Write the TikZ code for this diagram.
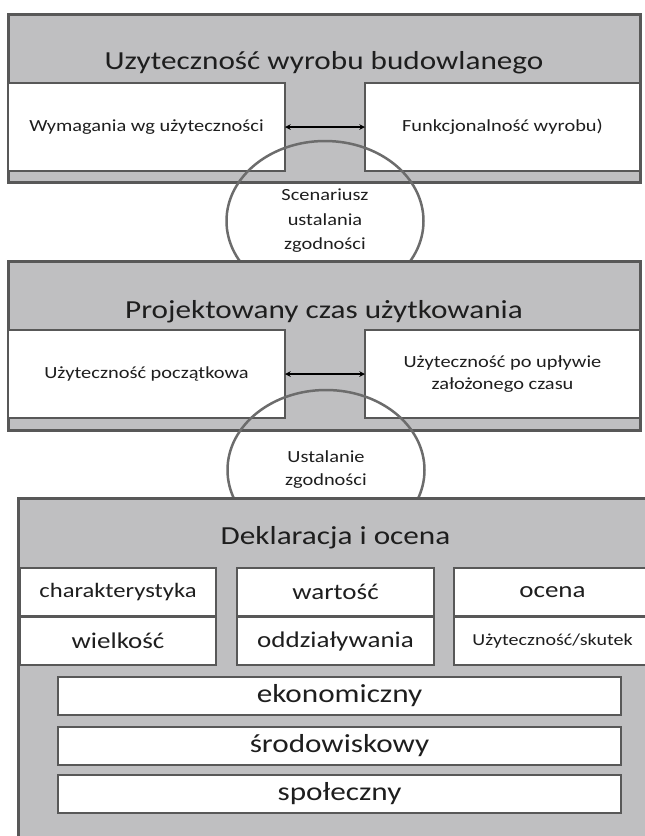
\documentclass[tikz,border=0pt]{standalone}
\usepackage{fontspec}
\setmainfont{Carlito}[FakeStretch=1.2]
\usetikzlibrary{shapes.geometric}

\definecolor{panelgray}{RGB}{191,191,193}
\definecolor{edgegray}{RGB}{88,88,88}
\definecolor{ringgray}{RGB}{108,108,108}
\definecolor{inkgray}{RGB}{30,30,30}

\tikzset{
  panel/.style={rectangle, draw=edgegray, fill=panelgray, line width=3pt, outer sep=0pt},
  cell/.style={rectangle, draw=edgegray, fill=white, line width=2.5pt, outer sep=0pt, inner sep=0pt, text=inkgray, align=center},
  ring/.style={ellipse, draw=ringgray, line width=2.5pt, minimum width=197pt, minimum height=160pt, inner sep=0pt, text=inkgray, align=center},
  heading/.style={text=inkgray, font=\fontsize{26}{30}\selectfont},
  small/.style={font=\fontsize{17}{22}\selectfont},
  medium/.style={font=\fontsize{22.5}{26}\selectfont},
  large/.style={font=\fontsize{26}{30}\selectfont},
}

\begin{document}
\begin{tikzpicture}[x=1pt, y=-1pt]
            \useasboundingbox (0, 0) rectangle (645, 836);
            \clip (0, 0) rectangle (645, 836);
            % first block
            \node[panel, minimum width=632pt, minimum height=168pt] (usepanel) at (324, 98) {};
            \node[heading] (usetitle) at (324, 63) {Uzyteczność wyrobu budowlanego};
            \node[cell, small, minimum width=277pt, minimum height=88pt] (reqcell) at (146.5, 127) {Wymagania wg użyteczności};
            \node[cell, small, minimum width=275pt, minimum height=88pt] (funccell) at (502.5, 127) {Funkcjonalność wyrobu)};
            \draw[stealth-stealth, line width=1.5pt] (reqcell) -- (funccell);
            \node[ring, font=\fontsize{17}{24.5}\selectfont] (scenring) at (325, 221) {Scenariusz\\ustalania\\zgodności};
            % second block
            \node[panel, minimum width=632pt, minimum height=169pt] (lifepanel) at (324, 345.5) {};
            \node[heading] (lifetitle) at (324, 312) {Projektowany czas użytkowania};
            \node[cell, small, minimum width=277pt, minimum height=88pt] (initcell) at (146.5, 374) {Użyteczność początkowa};
            \node[cell, small, minimum width=275pt, minimum height=88pt] (latecell) at (502.5, 374) {Użyteczność po upływie\\założonego czasu};
            \draw[stealth-stealth, line width=1.5pt] (initcell) -- (latecell);
            \node[ring, font=\fontsize{17}{23}\selectfont] (confring) at (326, 470) {Ustalanie\\zgodności};
            % third block
            \node[panel, minimum width=635pt, minimum height=372pt] (declpanel) at (335.5, 684) {};
            \node[heading] (decltitle) at (335.5, 538) {Deklaracja i ocena};
            \node[cell, font=\fontsize{20.5}{24}\selectfont, minimum width=196pt, minimum height=48pt] (charcell) at (118, 592) {charakterystyka};
            \node[cell, medium, minimum width=197pt, minimum height=48pt] (valcell) at (335.5, 592) {wartość};
            \node[cell, medium, minimum width=197pt, minimum height=48pt] (evalcell) at (552.5, 592) {ocena};
            \node[cell, medium, minimum width=196pt, minimum height=48pt] (sizecell) at (118, 641) {wielkość};
            \node[cell, medium, minimum width=197pt, minimum height=48pt] (actcell) at (335.5, 641) {oddziaływania};
            \node[cell, font=\fontsize{16.7}{20}\selectfont, minimum width=197pt, minimum height=48pt] (effcell) at (552.5, 641) {Użyteczność/skutek};
            \node[cell, large, minimum width=563pt, minimum height=38pt] (econcell) at (339.5, 696) {ekonomiczny};
            \node[cell, large, minimum width=563pt, minimum height=38pt] (envcell) at (339.5, 746) {środowiskowy};
            \node[cell, large, minimum width=563pt, minimum height=38pt] (soccell) at (339.5, 794) {społeczny};
\end{tikzpicture}
\end{document}
